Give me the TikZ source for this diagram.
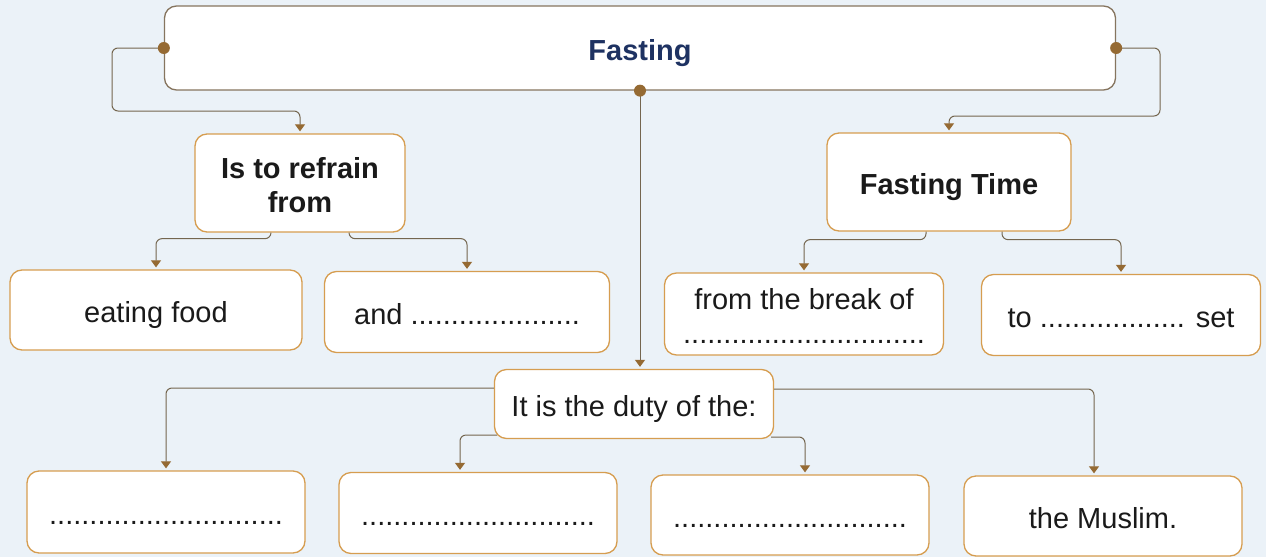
\documentclass[tikz,border=0pt]{standalone}
\usepackage{fontspec}
\setmainfont{Liberation Sans}
\usetikzlibrary{arrows.meta,calc}
\definecolor{bgc}{HTML}{EBF2F8}
\definecolor{boxc}{HTML}{D69D50}
\definecolor{topc}{HTML}{86755F}
\definecolor{linec}{HTML}{74664F}
\definecolor{tipc}{HTML}{956A33}
\definecolor{navy}{HTML}{1E3262}
\definecolor{txt}{HTML}{1A1A1A}
\newcommand{\lowstrut}{\rule{0pt}{35pt}\strut}
\begin{document}
\begin{tikzpicture}[x=1pt,y=-1pt,
  box/.style={draw=boxc,line width=1.3pt,fill=white,rounded corners=12pt,inner sep=0pt,align=center,text=txt,font=\fontsize{29}{34}\selectfont,execute at begin node=\lowstrut},
  topbox/.style={draw=topc,line width=1.3pt,fill=white,rounded corners=12pt,inner sep=0pt,align=center,execute at begin node=\lowstrut},
  dotc/.style={circle,fill=tipc,inner sep=0pt,minimum size=12pt},
  conn/.style={draw=linec,line width=1pt,rounded corners=6pt,-{Triangle[width=10pt,length=7pt,color=tipc]},shorten >=2pt}]
\useasboundingbox[fill=bgc] (0,0) rectangle (1266,557);
% boxes
\node[topbox,minimum width=951pt,minimum height=84pt,font=\fontsize{29}{34}\selectfont\bfseries,text=navy] (top) at (640,48) {Fasting};
\node[box,minimum width=210pt,minimum height=98pt,font=\fontsize{29}{34}\selectfont\bfseries] (refrain) at (300,183) {\rule{0pt}{36pt}Is to refrain\\from};
\node[box,minimum width=244pt,minimum height=98pt,font=\fontsize{29}{34}\selectfont\bfseries] (ftime) at (949,182) {Fasting Time};
\node[box,minimum width=292pt,minimum height=80pt] (eat) at (156,310) {eating food};
\node[box,minimum width=285pt,minimum height=81pt] (and) at (467,312) {and .....................};
\node[box,minimum width=279pt,minimum height=82pt] (break) at (804,314) {\rule{0pt}{36pt}from the break of\\..............................};
\node[box,minimum width=279pt,minimum height=81pt] (toset) at (1121,315) {to .................. set};
\node[box,minimum width=279pt,minimum height=69pt] (duty) at (634,404) {It is the duty of the:};
\node[box,minimum width=278pt,minimum height=82pt] (b1) at (166,512) {.............................};
\node[box,minimum width=278pt,minimum height=81pt] (b2) at (478,513) {.............................};
\node[box,minimum width=278pt,minimum height=80pt] (b3) at (790,515) {.............................};
\node[box,minimum width=278pt,minimum height=80pt] (b4) at (1103,516) {the Muslim.};
% turning points
\coordinate (l1) at (112,111);
\coordinate (r1) at (1160,116);
% connectors from top
\draw[conn] (top.west) -| (l1) -| (refrain.north);
\draw[conn] (top.east) -| (r1) -| (ftime.north);
\draw[conn] (top.south) -- (top.south |- duty.north);
\node[dotc] (dotL) at (top.west) {};
\node[dotc] (dotR) at (top.east) {};
\node[dotc] (dotC) at (top.south) {};
% refrain children
\draw[conn] ([xshift=-29pt]refrain.south) -- ++(0,6) -| (eat.north);
\draw[conn] ([xshift=49pt]refrain.south) -- ++(0,6) -| (and.north);
% fasting time children
\draw[conn] ([xshift=-23pt]ftime.south) -- ++(0,8) -| (break.north);
\draw[conn] ([xshift=53pt]ftime.south) -- ++(0,8) -| (toset.north);
% duty children
\draw[conn] ([yshift=16pt]duty.west) -| (b1.north);
\draw[conn] ([xshift=3pt,yshift=-31pt]duty.west) -| ([xshift=-18pt]b2.north);
\draw[conn] ([xshift=-3pt,yshift=-33pt]duty.east) -| ([xshift=15pt]b3.north);
\draw[conn] ([yshift=15pt]duty.east) -| ([xshift=-9pt]b4.north);
\end{tikzpicture}
\end{document}
